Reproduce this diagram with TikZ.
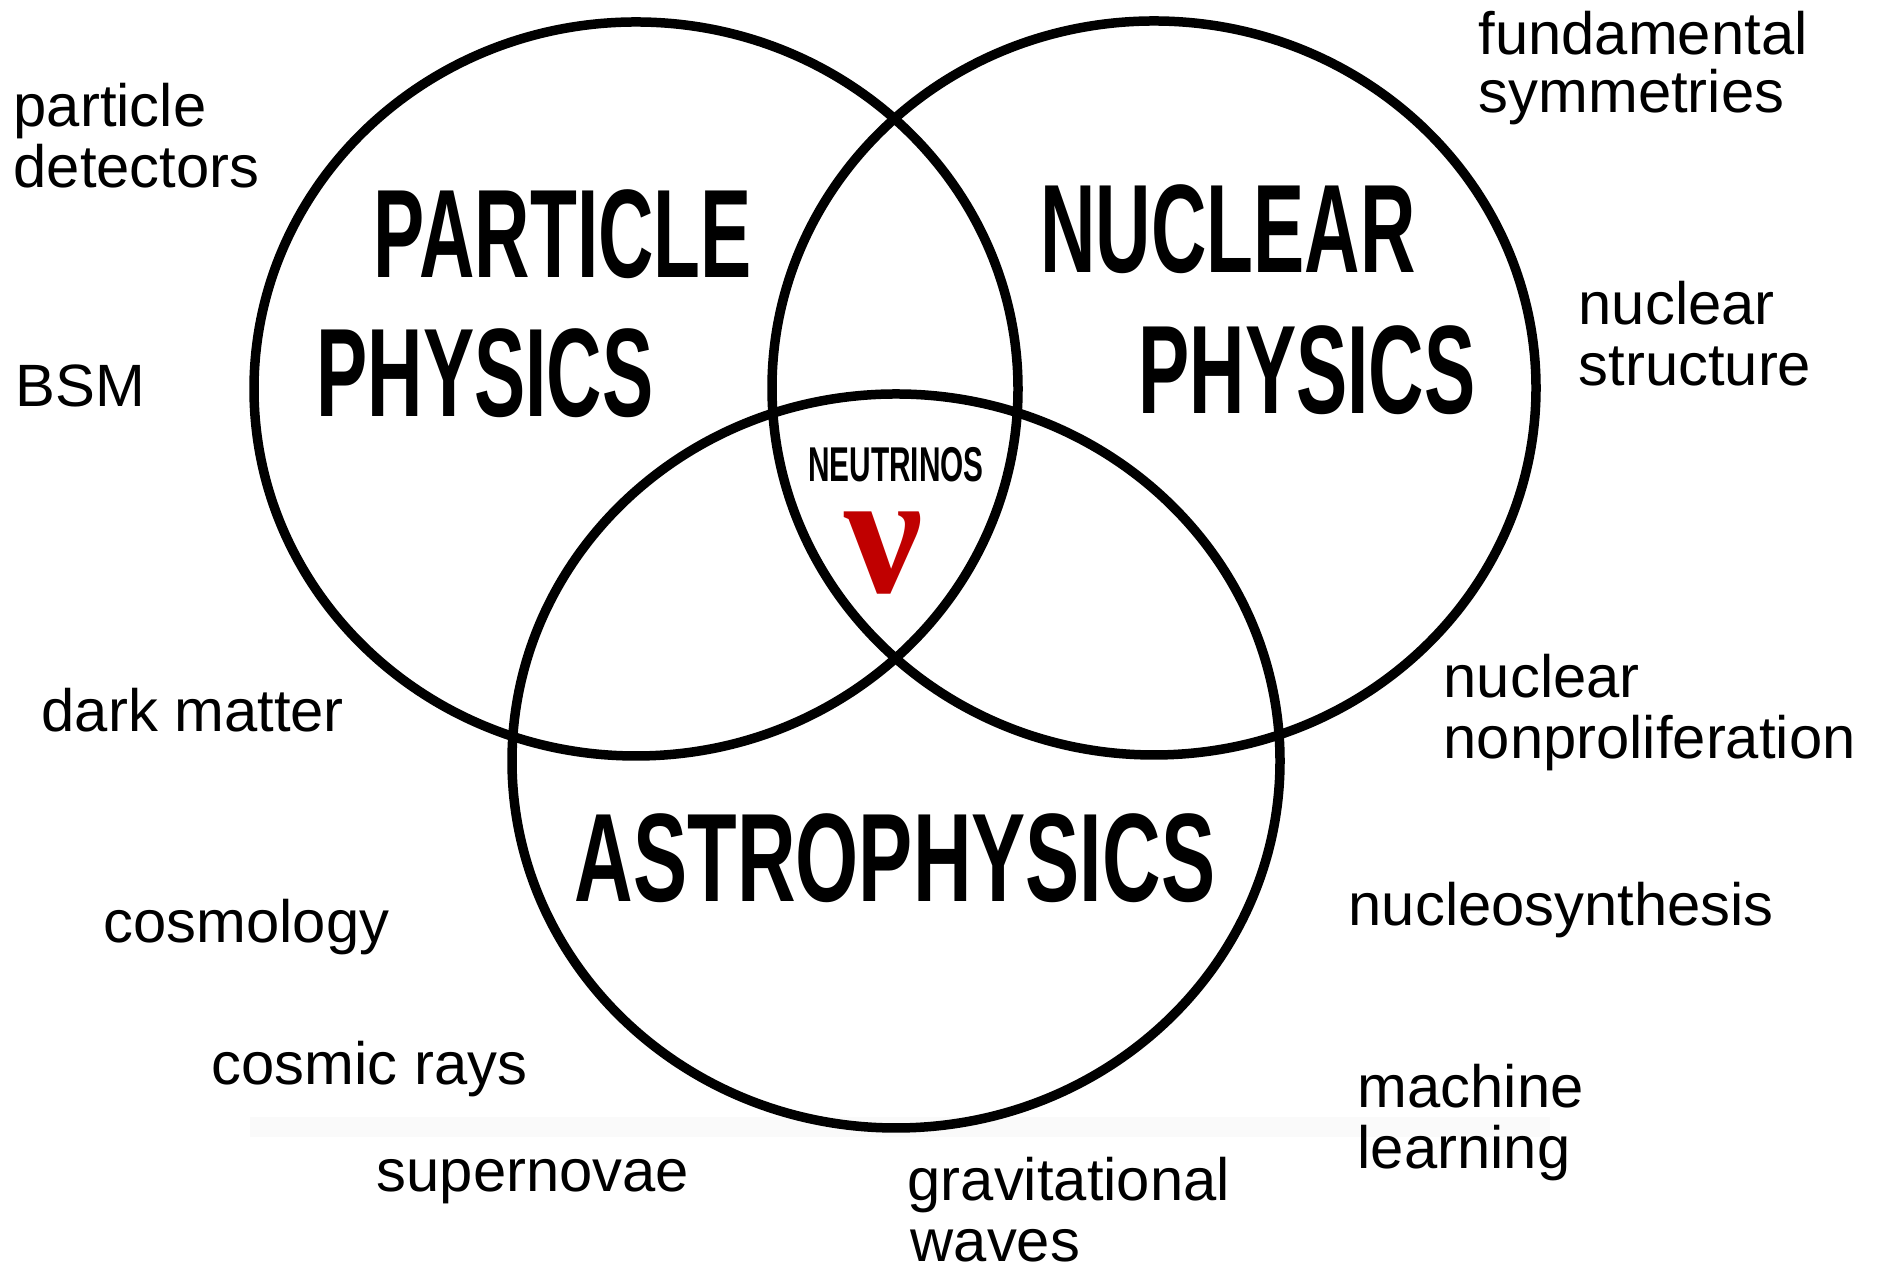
\documentclass[tikz,border=0pt]{standalone}
\usepackage{fontspec}
\setmainfont{Liberation Sans}
\newfontfamily\headfont{Liberation Sans Bold}[FakeStretch=0.61]
\newfontfamily\widehead{Liberation Sans Bold}[FakeStretch=0.645]
\newfontfamily\nufont{Liberation Serif Bold}
\usepackage{tikz}
\definecolor{nured}{RGB}{192,0,0}
\tikzset{
  ring/.style={draw=black, line width=0.95mm},
  field/.style={font=\headfont\fontsize{35.8}{36}\selectfont, inner sep=0pt, anchor=base},
  topic/.style={font=\fontsize{17}{17.5}\selectfont, inner sep=0pt, anchor=base west, align=left},
}

\begin{document}
\begin{tikzpicture}
  \useasboundingbox (0,0) rectangle (18.91,12.71);
  \fill[black!2] (2.50,1.34) rectangle (15.50,1.54);

  % the three fields
  \draw[ring] (6.36,8.82) ellipse [x radius=3.82, y radius=3.67];
  \draw[ring] (11.54,8.83) ellipse [x radius=3.82, y radius=3.67];
  \draw[ring] (8.96,5.10) ellipse [x radius=3.84, y radius=3.67];

  \node[field] (part) at (5.63,9.93) {PARTICLE};
  \node[field] (partphys) at (4.85,8.54) {PHYSICS};
  \node[field] (nucl) at (12.28,9.98) {NUCLEAR};
  \node[field] (nuclphys) at (13.07,8.57) {PHYSICS};
  \node[field, font=\widehead\fontsize{35.8}{36}\selectfont] (astro) at (8.95,3.69) {ASTROPHYSICS};

  % centre
  \node[field, font=\headfont\fontsize{13.9}{14}\selectfont] (neut) at (8.96,7.89) {NEUTRINOS};
  \node[inner sep=0pt, anchor=base, text=nured, font=\nufont\fontsize{50}{50}\selectfont] (nu) at (8.84,6.78) {ν};

  % topics round the outside (base = last line)
  \node[topic] (detect) at (0.13,10.83) {particle\\detectors};
  \node[topic] (bsm) at (0.15,8.64) {BSM};
  \node[topic] (dark) at (0.41,5.39) {dark matter};
  \node[topic] (cosmo) at (1.03,3.28) {cosmology};
  \node[topic] (rays) at (2.11,1.86) {cosmic rays};
  \node[topic] (snova) at (3.76,0.79) {supernovae};
  \node[topic] (gwave) at (9.07,0.09) {gravitational\\\hspace*{0.3mm}waves};
  \node[topic] (mlearn) at (13.57,1.02) {machine\\learning};
  \node[topic] (synth) at (13.48,3.45) {nucleosynthesis};
  \node[topic] (nonprol) at (14.43,5.12) {nuclear\\nonproliferation};
  \node[topic] (struct) at (15.78,8.85) {nuclear\\structure};
  \node[topic, font=\fontsize{17}{16.5}\selectfont] (symm) at (14.78,11.58) {fundamental\\symmetries};
\end{tikzpicture}
\end{document}
